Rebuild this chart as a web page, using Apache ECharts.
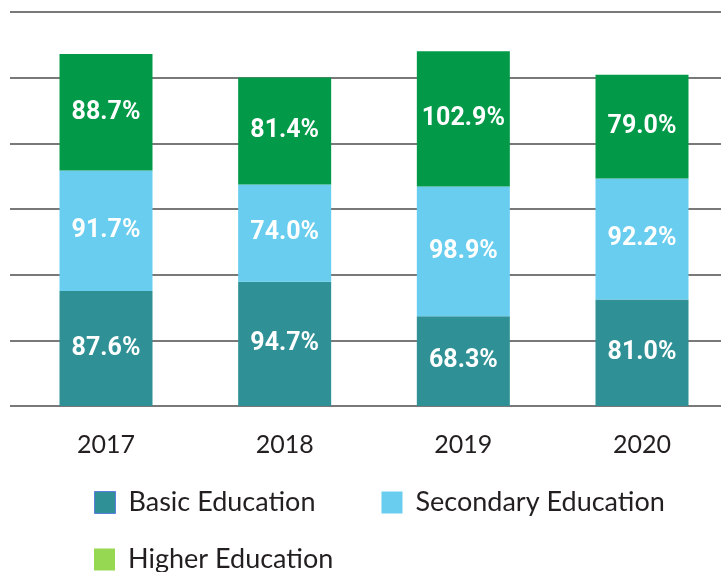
<!DOCTYPE html>
<html>
<head>
<meta charset="utf-8">
<script src="https://cdn.jsdelivr.net/npm/echarts@6/dist/echarts.min.js"></script>
<style>
html,body{margin:0;padding:0;background:#fff;}
#c{width:721px;height:572px;}
</style>
</head>
<body>
<div id="c"></div>
<script>
const categories = ['2017', '2018', '2019', '2020'];
const basic = [87.6, 94.7, 68.3, 81.0];
const secondary = [91.7, 74.0, 98.9, 92.2];
const higher = [88.7, 81.4, 102.9, 79.0];
const seriesNames = ['Basic Education', 'Secondary Education', 'Higher Education'];

const barColors = ['#2f9196', '#68cdee', '#029a48'];
const legendColors = ['#2f9196', '#68cdee', '#96d852'];

const chart = echarts.init(document.getElementById('c'));
const labelCfg = {
  show: true,
  position: 'inside',
  color: '#ffffff',
  fontFamily: 'Roboto',
  fontWeight: 'bold',
  fontSize: 25,
  formatter: p => p.value.toFixed(1) + '%'
};
function mkSeries(name, data, color) {
  return {
    name: name, type: 'bar', stack: 'total', data: data,
    xAxisIndex: 0, yAxisIndex: 0,
    barWidth: 93,
    clip: false,
    itemStyle: { color: color },
    label: labelCfg,
    emphasis: { disabled: true }
  };
}
const legendText = { color: '#231f20', fontFamily: 'Lato', fontSize: 27, padding: [0, 0, 0, 8] };
chart.setOption({
  animation: false,
  grid: [
    { left: 106, right: 79, top: 12, bottom: 166 },
    { left: 10, right: 0, top: 12, bottom: 166 }
  ],
  xAxis: [
    {
      type: 'category', data: categories, gridIndex: 0, boundaryGap: false,
      axisLine: { show: false }, axisTick: { show: false }, splitLine: { show: false },
      axisLabel: { color: '#231f20', fontFamily: 'Lato', fontSize: 25, margin: 26 }
    },
    { type: 'value', gridIndex: 1, show: false, min: 0, max: 1 }
  ],
  yAxis: [
    { type: 'value', gridIndex: 0, min: 0, max: 300, interval: 50, show: false, splitLine: { show: false } },
    {
      type: 'value', gridIndex: 1, min: 0, max: 300, interval: 50,
      axisLabel: { show: false }, axisLine: { show: false }, axisTick: { show: false },
      splitLine: { show: true, lineStyle: { color: '#4d4d4d', width: 1.5 } },
      z: 0
    }
  ],
  legend: [
    {
      left: 94, top: 489, padding: 0, itemWidth: 21, itemHeight: 22, itemGap: 66,
      icon: 'rect', selectedMode: false,
      textStyle: legendText,
      data: [
        { name: seriesNames[0], itemStyle: { color: legendColors[0], borderColor: '#5b7fe0', borderWidth: 1 } },
        { name: seriesNames[1], itemStyle: { color: legendColors[1] } }
      ]
    },
    {
      left: 94, top: 546, padding: 0, itemWidth: 21, itemHeight: 22,
      icon: 'rect', selectedMode: false,
      textStyle: legendText,
      data: [
        { name: seriesNames[2], itemStyle: { color: legendColors[2] } }
      ]
    }
  ],
  series: [
    mkSeries(seriesNames[0], basic, barColors[0]),
    mkSeries(seriesNames[1], secondary, barColors[1]),
    mkSeries(seriesNames[2], higher, barColors[2])
  ]
});
</script>
</body>
</html>
